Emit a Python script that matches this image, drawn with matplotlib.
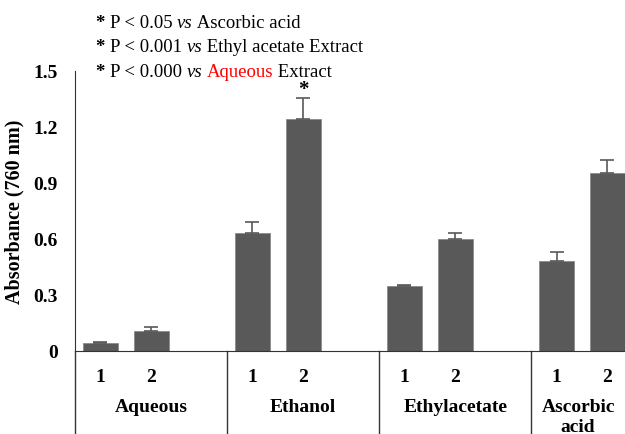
import numpy as np
import matplotlib.pyplot as plt
import matplotlib.transforms as mtransforms

plt.rcParams['font.family'] = ['Liberation Serif', 'DejaVu Serif']

groups = ['Aqueous', 'Ethanol', 'Ethylacetate', 'Ascorbic\nacid']
sub_labels = ['1', '2']
values = [[0.044, 0.107], [0.632, 1.243], [0.346, 0.601], [0.481, 0.951]]
errors = [[0.003, 0.021], [0.058, 0.112], [0.008, 0.031], [0.050, 0.072]]
yticks = [0, 0.3, 0.6, 0.9, 1.2, 1.5]
ytick_labels = ['0', '0.3', '0.6', '0.9', '1.2', '1.5']

bar_color = '#595959'
slots = 3  # two bars plus an empty slot per group
xmax = 10.35

fig = plt.figure(figsize=(6.25, 4.35), dpi=100)
ax = fig.add_axes([0.12, 0.191, 0.88, 0.644])

pos, h, e, ticklab = [], [], [], []
for g in range(len(groups)):
    for s in range(len(sub_labels)):
        pos.append(g * slots + s)
        h.append(values[g][s])
        e.append(errors[g][s])
        ticklab.append(sub_labels[s])

ax.bar(pos, h, width=0.69, color=bar_color, edgecolor='#8a8a8a', linewidth=0.6,
       yerr=[np.zeros(len(e)), e], capsize=5,
       error_kw=dict(ecolor='#595959', elinewidth=1.2, capthick=1.2))

ax.set_xlim(-0.5, xmax)
ax.set_ylim(0, 1.5)
ax.set_yticks(yticks)
ax.set_yticklabels(ytick_labels, fontweight='bold', fontsize=14)
ax.set_xticks(pos)
ax.set_xticklabels(ticklab, fontweight='bold', fontsize=14)
ax.tick_params(axis='y', length=0, pad=12.5)
ax.tick_params(axis='x', length=0, pad=12)
ax.set_ylabel('Absorbance (760 nm)', fontweight='bold', fontsize=14.5, labelpad=6)

for side in ['top', 'right']:
    ax.spines[side].set_visible(False)
ax.spines['left'].set_color('#333333')
ax.spines['bottom'].set_color('#333333')

# group separators and group names under the axis
trans = mtransforms.blended_transform_factory(ax.transData, ax.transAxes)
for g in range(len(groups)):
    x0 = g * slots - 0.5
    x1 = min(x0 + slots, xmax)
    ax.plot([x0, x0], [0, -0.32], color='#333333', lw=1, transform=trans, clip_on=False)
    ax.text((x0 + x1) / 2, -0.168, groups[g], transform=trans, ha='center', va='top',
            fontweight='bold', fontsize=14, linespacing=1.2)

# significance mark above ethanol 2
ax.text(pos[3], 1.375, '*', ha='center', va='baseline', fontsize=15, fontweight='bold')

# significance notes
notes = [
    [('* ', 'bold', 'normal', 'black'), ('P < 0.05 ', 'normal', 'normal', 'black'),
     ('vs', 'normal', 'italic', 'black'), (' Ascorbic acid', 'normal', 'normal', 'black')],
    [('* ', 'bold', 'normal', 'black'), ('P < 0.001 ', 'normal', 'normal', 'black'),
     ('vs', 'normal', 'italic', 'black'), (' Ethyl acetate Extract', 'normal', 'normal', 'black')],
    [('* ', 'bold', 'normal', 'black'), ('P < 0.000 ', 'normal', 'normal', 'black'),
     ('vs', 'normal', 'italic', 'black'), (' ', 'normal', 'normal', 'black'),
     ('Aqueous', 'normal', 'normal', 'red'), (' Extract', 'normal', 'normal', 'black')],
]
line_y = [0.926, 0.871, 0.814]
for y, parts in zip(line_y, notes):
    prev = None
    for txt, wt, st, col in parts:
        if prev is None:
            prev = fig.text(0.153, y, txt, fontsize=13.5, fontweight=wt, fontstyle=st,
                            color=col, va='bottom')
        else:
            prev = ax.annotate(txt, xy=(1, 0), xycoords=prev, fontsize=13.5, fontweight=wt,
                               fontstyle=st, color=col, va='bottom', ha='left',
                               annotation_clip=False)

fig.savefig('out.png', dpi=100)
